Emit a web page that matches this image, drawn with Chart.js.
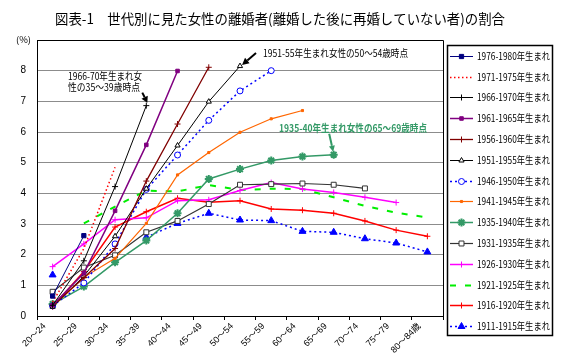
<!DOCTYPE html>
<html><head><meta charset="utf-8">
<script src="https://cdn.jsdelivr.net/npm/chart.js@4/dist/chart.umd.min.js"></script>
<style>html,body{margin:0;padding:0;background:#fff}#wrap{width:576px;height:364px}</style>
</head><body><div id="wrap"><canvas id="c" width="576" height="364"></canvas></div>
<script>
const categories = ['20～24','25～29','30～34','35～39','40～44','45～49','50～54','55～59','60～64','65～69','70～74','75～79','80～84歳'];
const yTicks = [0,1,2,3,4,5,6,7,8];
const seriesNames = ['1976-1980年生まれ','1971-1975年生まれ','1966-1970年生まれ','1961-1965年生まれ','1956-1960年生まれ','1951-1955年生まれ','1946-1950年生まれ','1941-1945年生まれ','1935-1940年生まれ','1931-1935年生まれ','1926-1930年生まれ','1921-1925年生まれ','1916-1920年生まれ','1911-1915年生まれ'];
const s1976 = [0.65, 2.62];
const s1971 = [0.45, 2.2, 4.85];
const s1966 = [0.35, 1.8, 4.22, 6.86];
const s1961 = [0.35, 1.4, 3.43, 5.58, 7.99];
const s1956 = [0.35, 1.25, 2.2, 4.4, 6.26, 8.11];
const s1951 = [0.3, 1.3, 2.6, 4.15, 5.56, 6.99, 8.15];
const s1946 = [0.33, 1.08, 2.35, 4.13, 5.25, 6.38, 7.34, 8.0];
const s1941 = [0.3, 1.26, 1.88, 3.02, 4.6, 5.33, 5.99, 6.43, 6.70];
const s1935 = [0.39, 0.96, 1.75, 2.46, 3.35, 4.47, 4.79, 5.07, 5.20, 5.26];
const s1931 = [0.79, 1.58, 1.98, 2.73, 3.10, 3.65, 4.28, 4.30, 4.32, 4.28, 4.16];
const s1926 = [1.61, 2.35, 3.14, 3.20, 3.76, 3.79, 4.09, 4.35, 4.14, 4.03, 3.87, 3.70];
const s1921 = [null, 3.02, 3.57, 4.09, 4.06, 4.27, 4.11, 4.15, 4.14, 3.87, 3.59, 3.37, 3.21];
const s1916 = [0.3, 1.45, 2.9, 3.40, 3.84, 3.71, 3.76, 3.49, 3.45, 3.35, 3.10, 2.80, 2.60];
const s1911 = [1.34, null, null, 2.57, 3.02, 3.35, 3.13, 3.11, 2.76, 2.73, 2.52, 2.38, 2.09];
const titleText = '図表-1　世代別に見た女性の離婚者(離婚した後に再婚していない者)の割合';
const note1a = '1966-70年生まれ女', note1b = '性の35～39歳時点';
const note2 = '1951-55年生まれ女性の50～54歳時点';
const note3 = '1935-40年生まれ女性の65～69歳時点';

const styles = [
 {c:'#000080', w:1, dash:[], ps:'rect', r:3, fill:'#000080'},
 {c:'#FF0000', w:1.5, dash:[1.5,2.5], ps:false, r:0},
 {c:'#000000', w:1, dash:[], ps:'cross', r:3},
 {c:'#800080', w:1.5, dash:[], ps:'rect', r:2.5, fill:'#800080'},
 {c:'#800000', w:1.3, dash:[], ps:'cross', r:3},
 {c:'#000000', w:1, dash:[], ps:'triangle', r:3, fill:'#ffffff'},
 {c:'#0000FF', w:1.5, dash:[2,3], ps:'circle', r:3, fill:'#ffffff'},
 {c:'#FF6600', w:1.2, dash:[], ps:'rect', r:1.5, fill:'#FF6600'},
 {c:'#339966', w:1.5, dash:[], ps:'star', r:4, bw:2},
 {c:'#333333', w:1.2, dash:[], ps:'rect', r:3.5, fill:'#ffffff'},
 {c:'#FF00FF', w:1.5, dash:[], ps:'cross', r:3},
 {c:'#00EE00', w:2, dash:[6,9], ps:false, r:0},
 {c:'#FF0000', w:1.5, dash:[], ps:'cross', r:3},
 {c:'#0000FF', w:1.5, dash:[2,3], ps:'triangle', r:4, fill:'#0000FF'}
];
const seriesData = [s1976,s1971,s1966,s1961,s1956,s1951,s1946,s1941,s1935,s1931,s1926,s1921,s1916,s1911];

const datasets = seriesData.map((d,i)=>{
  const s = styles[i];
  return {
    label: seriesNames[i], data: d,
    borderColor: s.c, borderWidth: s.w, borderDash: s.dash,
    backgroundColor: s.fill || s.c,
    pointStyle: s.ps || 'circle', pointRadius: s.r,
    pointBorderColor: s.c, pointBackgroundColor: s.fill || s.c,
    pointBorderWidth: s.bw || 1,
    fill:false, tension:0, spanGaps:false
  };
});

const FONT_CJK = '"Noto Sans CJK JP", sans-serif';
function fitText(ctx, txt, x, y, w, font, color){
  ctx.save();
  ctx.font = font; ctx.textBaseline='middle'; ctx.textAlign='left';
  const m = ctx.measureText(txt).width;
  ctx.translate(x,y); ctx.scale(w/m,1);
  ctx.fillStyle=color; ctx.fillText(txt,0,0);
  ctx.restore();
}
function arrow(ctx, x1,y1,x2,y2,color,lw,hl,hw){
  ctx.save();
  ctx.strokeStyle=color; ctx.fillStyle=color; ctx.lineWidth=lw; ctx.setLineDash([]);
  const ang=Math.atan2(y2-y1,x2-x1);
  const bx=x2-hl*Math.cos(ang), by=y2-hl*Math.sin(ang);
  ctx.beginPath(); ctx.moveTo(x1,y1); ctx.lineTo(bx,by); ctx.stroke();
  ctx.beginPath(); ctx.moveTo(x2,y2);
  ctx.lineTo(bx+hw*Math.sin(ang), by-hw*Math.cos(ang));
  ctx.lineTo(bx-hw*Math.sin(ang), by+hw*Math.cos(ang));
  ctx.closePath(); ctx.fill();
  ctx.restore();
}

const deco = {
  id:'deco',
  afterDraw(chart){
    const ctx=chart.ctx, a=chart.chartArea, xs=chart.scales.x, ys=chart.scales.y;
    ctx.save();
    ctx.strokeStyle='#000'; ctx.lineWidth=1; ctx.setLineDash([]);
    ctx.beginPath();
    ctx.moveTo(Math.round(a.left)+0.5, Math.round(a.top)+0.5);
    ctx.lineTo(Math.round(a.right)+0.5, Math.round(a.top)+0.5);
    ctx.lineTo(Math.round(a.right)+0.5, Math.round(a.bottom)+0.5);
    ctx.stroke();
    fitText(ctx, titleText, 55, 19, 450, '14px '+FONT_CJK, '#000');
    fitText(ctx, '(%)', 16, 40, 15, '9px '+FONT_CJK, '#000');
    const p1x = xs.getPixelForValue(3), p1y = ys.getPixelForValue(s1966[3]);
    fitText(ctx, note1a, 68, 76, 74, '10px '+FONT_CJK, '#000');
    fitText(ctx, note1b, 68, 87, 72, '10px '+FONT_CJK, '#000');
    arrow(ctx, p1x-4, p1y-13, p1x+1, p1y-3, '#000', 2, 6, 3.5);
    const p2x = xs.getPixelForValue(6), p2y = ys.getPixelForValue(s1951[6]);
    fitText(ctx, note2, 263, 53, 145, '10px '+FONT_CJK, '#000');
    arrow(ctx, p2x+16, p2y-13, p2x+2, p2y-1, '#000', 2, 7, 3.5);
    const p3x = xs.getPixelForValue(9), p3y = ys.getPixelForValue(s1935[9]);
    fitText(ctx, note3, 279, 128, 148, 'bold 10px '+FONT_CJK, '#339966');
    arrow(ctx, p3x-4.5, p3y-21, p3x-0.5, p3y-3, '#339966', 2, 6, 3);
    ctx.strokeStyle='#000'; ctx.lineWidth=1.5;
    ctx.strokeRect(447.5, 45.5, 105, 290);
    for(let i=0;i<seriesNames.length;i++){
      const s=styles[i]; const y=Math.round(55.7+20.8*i)+0.5;
      ctx.save();
      ctx.strokeStyle=s.c; ctx.lineWidth=s.w; ctx.setLineDash(s.dash);
      ctx.beginPath(); ctx.moveTo(450,y); ctx.lineTo(473,y); ctx.stroke();
      ctx.setLineDash([]);
      if(s.ps){
        ctx.fillStyle=s.fill||s.c; ctx.strokeStyle=s.c; ctx.lineWidth=s.bw||1;
        Chart.helpers.drawPoint(ctx,{pointStyle:s.ps, radius:s.r, rotation:0, borderWidth:s.bw||1}, 461.5, y);
      }
      ctx.restore();
      fitText(ctx, seriesNames[i], 477, y, 73, '10px '+FONT_CJK, '#000');
    }
    ctx.restore();
  }
};

new Chart(document.getElementById('c'), {
  type:'line',
  data:{labels:categories, datasets},
  options:{
    responsive:false, animation:false,
    layout:{padding:{left:0, top:40, right:133, bottom:0}},
    plugins:{legend:{display:false}, title:{display:false}, tooltip:{enabled:false}},
    scales:{
      x:{
        type:'category', offset:true,
        grid:{drawOnChartArea:false, offset:true, drawTicks:true, tickLength:4, color:'#000', tickColor:'#000'},
        border:{display:true, color:'#000', width:1},
        ticks:{autoSkip:false, minRotation:45, maxRotation:45, labelOffset:-8, padding:1, color:'#000',
          font:{size:9, family:'"Liberation Sans", "Noto Sans CJK JP", sans-serif'}},
        afterFit(s){ s.height = 48; }
      },
      y:{
        min:0, max:9,
        grid:{color:(c)=> c.tick && (c.tick.value===0 || c.tick.value===9) ? 'rgba(0,0,0,0)' : '#8c8c8c', drawTicks:false, lineWidth:1},
        border:{display:true, color:'#000', width:1},
        ticks:{stepSize:1, padding:11, color:'#000', font:{size:10, family:'"Liberation Sans", sans-serif'},
          callback:(v)=> yTicks.includes(v) ? String(v) : ''},
        afterFit(s){ s.width = 37; }
      }
    }
  },
  plugins:[deco]
});
</script></body></html>
